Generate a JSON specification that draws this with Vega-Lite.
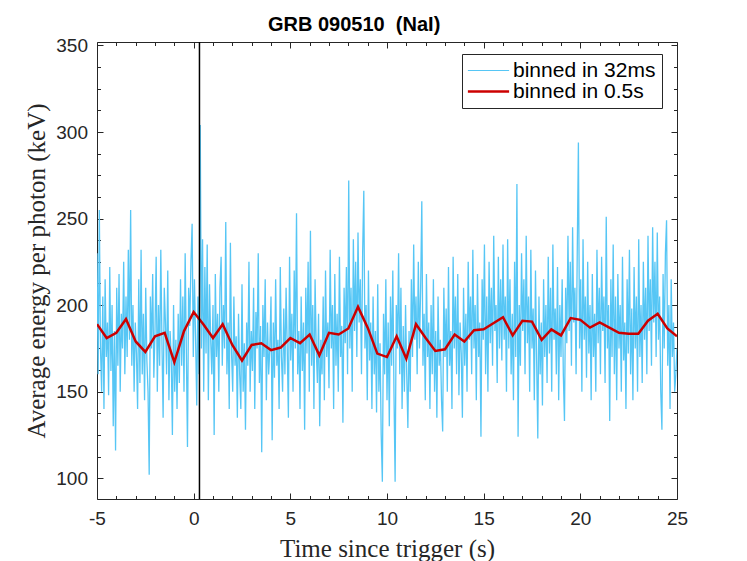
{
  "$schema": "https://vega.github.io/schema/vega-lite/v6.json",
  "width": 580,
  "height": 457,
  "autosize": {"type": "none"},
  "padding": {"left": 97, "top": 42, "right": 70, "bottom": 62},
  "background": "white",
  "config": {
    "view": {"stroke": null},
    "axis": {
      "grid": false,
      "domainColor": "#262626",
      "tickColor": "#262626",
      "labelColor": "#262626",
      "titleColor": "#262626",
      "domainWidth": 1,
      "tickWidth": 1,
      "labelFont": "Liberation Sans",
      "labelFontSize": 19,
      "titleFont": "Liberation Serif",
      "titleFontSize": 25,
      "titleFontWeight": "normal",
      "labelFlush": false,
      "labelOverlap": false,
      "zindex": 1
    }
  },
  "title": {
    "text": "GRB 090510\u00a0\u00a0(NaI)",
    "font": "Liberation Sans",
    "fontSize": 20,
    "fontWeight": "bold",
    "color": "black",
    "anchor": "start",
    "frame": "group",
    "dx": 171,
    "baseline": "alphabetic",
    "offset": -15
  },
  "datasets": {
    "fine": [
      {"t":-5,"e":230},{"t":-4.94,"e":160},{"t":-4.88,"e":255},{"t":-4.82,"e":175},{"t":-4.76,"e":150},{"t":-4.7,"e":205},{"t":-4.64,"e":140},{"t":-4.58,"e":215},{"t":-4.52,"e":170},{"t":-4.46,"e":190},
      {"t":-4.4,"e":148},{"t":-4.34,"e":222},{"t":-4.28,"e":162},{"t":-4.22,"e":200},{"t":-4.16,"e":130},{"t":-4.1,"e":185},{"t":-4.04,"e":116},{"t":-3.98,"e":210},{"t":-3.92,"e":165},{"t":-3.86,"e":218},
      {"t":-3.8,"e":150},{"t":-3.74,"e":195},{"t":-3.68,"e":175},{"t":-3.62,"e":225},{"t":-3.56,"e":160},{"t":-3.5,"e":205},{"t":-3.44,"e":170},{"t":-3.38,"e":232},{"t":-3.32,"e":180},{"t":-3.26,"e":255},
      {"t":-3.2,"e":165},{"t":-3.14,"e":200},{"t":-3.08,"e":150},{"t":-3.02,"e":190},{"t":-2.96,"e":172},{"t":-2.9,"e":140},{"t":-2.84,"e":215},{"t":-2.78,"e":155},{"t":-2.72,"e":232},{"t":-2.66,"e":160},
      {"t":-2.6,"e":195},{"t":-2.54,"e":145},{"t":-2.48,"e":210},{"t":-2.42,"e":168},{"t":-2.36,"e":150},{"t":-2.3,"e":102},{"t":-2.24,"e":205},{"t":-2.18,"e":175},{"t":-2.12,"e":218},{"t":-2.06,"e":158},
      {"t":-2,"e":185},{"t":-1.94,"e":228},{"t":-1.88,"e":150},{"t":-1.82,"e":200},{"t":-1.76,"e":165},{"t":-1.7,"e":232},{"t":-1.64,"e":178},{"t":-1.58,"e":135},{"t":-1.52,"e":210},{"t":-1.46,"e":190},
      {"t":-1.4,"e":160},{"t":-1.34,"e":220},{"t":-1.28,"e":145},{"t":-1.22,"e":185},{"t":-1.16,"e":170},{"t":-1.1,"e":125},{"t":-1.04,"e":200},{"t":-0.98,"e":150},{"t":-0.92,"e":180},{"t":-0.86,"e":140},
      {"t":-0.8,"e":195},{"t":-0.74,"e":155},{"t":-0.68,"e":215},{"t":-0.62,"e":165},{"t":-0.56,"e":205},{"t":-0.5,"e":150},{"t":-0.44,"e":230},{"t":-0.38,"e":175},{"t":-0.32,"e":118},{"t":-0.26,"e":210},
      {"t":-0.2,"e":188},{"t":-0.14,"e":225},{"t":-0.08,"e":247},{"t":-0.02,"e":170},{"t":0.04,"e":215},{"t":0.1,"e":180},{"t":0.16,"e":142},{"t":0.22,"e":205},{"t":0.28,"e":160},{"t":0.34,"e":304},
      {"t":0.4,"e":175},{"t":0.46,"e":238},{"t":0.52,"e":150},{"t":0.58,"e":222},{"t":0.64,"e":172},{"t":0.7,"e":235},{"t":0.76,"e":145},{"t":0.82,"e":212},{"t":0.88,"e":180},{"t":0.94,"e":160},
      {"t":1,"e":200},{"t":1.06,"e":125},{"t":1.12,"e":218},{"t":1.18,"e":170},{"t":1.24,"e":195},{"t":1.3,"e":150},{"t":1.36,"e":210},{"t":1.42,"e":228},{"t":1.48,"e":165},{"t":1.54,"e":200},
      {"t":1.6,"e":175},{"t":1.66,"e":248},{"t":1.72,"e":160},{"t":1.78,"e":190},{"t":1.84,"e":140},{"t":1.9,"e":236},{"t":1.96,"e":172},{"t":2.02,"e":150},{"t":2.08,"e":205},{"t":2.14,"e":165},
      {"t":2.2,"e":182},{"t":2.26,"e":135},{"t":2.32,"e":195},{"t":2.38,"e":160},{"t":2.44,"e":140},{"t":2.5,"e":212},{"t":2.56,"e":150},{"t":2.62,"e":178},{"t":2.68,"e":128},{"t":2.74,"e":190},
      {"t":2.8,"e":165},{"t":2.86,"e":225},{"t":2.92,"e":150},{"t":2.98,"e":185},{"t":3.04,"e":162},{"t":3.1,"e":210},{"t":3.16,"e":140},{"t":3.22,"e":196},{"t":3.28,"e":175},{"t":3.34,"e":230},
      {"t":3.4,"e":155},{"t":3.46,"e":188},{"t":3.52,"e":115},{"t":3.58,"e":200},{"t":3.64,"e":170},{"t":3.7,"e":215},{"t":3.76,"e":145},{"t":3.82,"e":190},{"t":3.88,"e":160},{"t":3.94,"e":175},
      {"t":4,"e":205},{"t":4.06,"e":122},{"t":4.12,"e":190},{"t":4.18,"e":158},{"t":4.24,"e":215},{"t":4.3,"e":165},{"t":4.36,"e":180},{"t":4.42,"e":140},{"t":4.48,"e":222},{"t":4.54,"e":170},
      {"t":4.6,"e":150},{"t":4.66,"e":198},{"t":4.72,"e":160},{"t":4.78,"e":210},{"t":4.84,"e":175},{"t":4.9,"e":135},{"t":4.96,"e":228},{"t":5.02,"e":168},{"t":5.08,"e":195},{"t":5.14,"e":150},
      {"t":5.2,"e":220},{"t":5.26,"e":175},{"t":5.32,"e":253},{"t":5.38,"e":160},{"t":5.44,"e":185},{"t":5.5,"e":140},{"t":5.56,"e":205},{"t":5.62,"e":162},{"t":5.68,"e":190},{"t":5.74,"e":128},
      {"t":5.8,"e":210},{"t":5.86,"e":172},{"t":5.92,"e":225},{"t":5.98,"e":150},{"t":6.04,"e":243},{"t":6.1,"e":165},{"t":6.16,"e":200},{"t":6.22,"e":140},{"t":6.28,"e":215},{"t":6.34,"e":175},
      {"t":6.4,"e":155},{"t":6.46,"e":195},{"t":6.52,"e":130},{"t":6.58,"e":180},{"t":6.64,"e":160},{"t":6.7,"e":205},{"t":6.76,"e":145},{"t":6.82,"e":220},{"t":6.88,"e":170},{"t":6.94,"e":190},
      {"t":7,"e":152},{"t":7.06,"e":232},{"t":7.12,"e":175},{"t":7.18,"e":200},{"t":7.24,"e":140},{"t":7.3,"e":218},{"t":7.36,"e":165},{"t":7.42,"e":195},{"t":7.48,"e":150},{"t":7.54,"e":228},
      {"t":7.6,"e":170},{"t":7.66,"e":188},{"t":7.72,"e":132},{"t":7.78,"e":210},{"t":7.84,"e":178},{"t":7.9,"e":222},{"t":7.96,"e":160},{"t":8.02,"e":272},{"t":8.08,"e":175},{"t":8.14,"e":210},
      {"t":8.2,"e":150},{"t":8.26,"e":238},{"t":8.32,"e":185},{"t":8.38,"e":225},{"t":8.44,"e":170},{"t":8.5,"e":242},{"t":8.56,"e":190},{"t":8.62,"e":215},{"t":8.68,"e":160},{"t":8.74,"e":230},
      {"t":8.8,"e":266},{"t":8.86,"e":175},{"t":8.92,"e":200},{"t":8.98,"e":145},{"t":9.04,"e":220},{"t":9.1,"e":168},{"t":9.16,"e":190},{"t":9.22,"e":140},{"t":9.28,"e":205},{"t":9.34,"e":160},
      {"t":9.4,"e":185},{"t":9.46,"e":138},{"t":9.52,"e":212},{"t":9.58,"e":150},{"t":9.64,"e":178},{"t":9.7,"e":125},{"t":9.76,"e":98},{"t":9.82,"e":195},{"t":9.88,"e":160},{"t":9.94,"e":215},
      {"t":10,"e":145},{"t":10.06,"e":190},{"t":10.12,"e":130},{"t":10.18,"e":205},{"t":10.24,"e":165},{"t":10.3,"e":220},{"t":10.36,"e":150},{"t":10.42,"e":98},{"t":10.48,"e":200},{"t":10.54,"e":175},
      {"t":10.6,"e":230},{"t":10.66,"e":160},{"t":10.72,"e":210},{"t":10.78,"e":140},{"t":10.84,"e":188},{"t":10.9,"e":150},{"t":10.96,"e":200},{"t":11.02,"e":160},{"t":11.08,"e":129},{"t":11.14,"e":185},
      {"t":11.2,"e":150},{"t":11.26,"e":215},{"t":11.32,"e":170},{"t":11.38,"e":235},{"t":11.44,"e":180},{"t":11.5,"e":205},{"t":11.56,"e":160},{"t":11.62,"e":225},{"t":11.68,"e":175},{"t":11.74,"e":210},
      {"t":11.8,"e":260},{"t":11.86,"e":165},{"t":11.92,"e":195},{"t":11.98,"e":145},{"t":12.04,"e":218},{"t":12.1,"e":170},{"t":12.16,"e":190},{"t":12.22,"e":140},{"t":12.28,"e":200},{"t":12.34,"e":160},
      {"t":12.4,"e":215},{"t":12.46,"e":150},{"t":12.52,"e":185},{"t":12.58,"e":135},{"t":12.64,"e":205},{"t":12.7,"e":165},{"t":12.76,"e":180},{"t":12.82,"e":145},{"t":12.88,"e":127},{"t":12.94,"e":210},
      {"t":13,"e":170},{"t":13.06,"e":198},{"t":13.12,"e":150},{"t":13.18,"e":222},{"t":13.24,"e":165},{"t":13.3,"e":185},{"t":13.36,"e":140},{"t":13.42,"e":228},{"t":13.48,"e":175},{"t":13.54,"e":205},
      {"t":13.6,"e":160},{"t":13.66,"e":218},{"t":13.72,"e":148},{"t":13.78,"e":190},{"t":13.84,"e":172},{"t":13.9,"e":135},{"t":13.96,"e":210},{"t":14.02,"e":165},{"t":14.08,"e":195},{"t":14.14,"e":150},
      {"t":14.2,"e":225},{"t":14.26,"e":180},{"t":14.32,"e":205},{"t":14.38,"e":160},{"t":14.44,"e":232},{"t":14.5,"e":175},{"t":14.56,"e":200},{"t":14.62,"e":145},{"t":14.68,"e":218},{"t":14.74,"e":170},
      {"t":14.8,"e":190},{"t":14.86,"e":124},{"t":14.92,"e":215},{"t":14.98,"e":180},{"t":15.04,"e":235},{"t":15.1,"e":160},{"t":15.16,"e":205},{"t":15.22,"e":150},{"t":15.28,"e":225},{"t":15.34,"e":178},
      {"t":15.4,"e":210},{"t":15.46,"e":165},{"t":15.52,"e":240},{"t":15.58,"e":185},{"t":15.64,"e":200},{"t":15.7,"e":155},{"t":15.76,"e":228},{"t":15.82,"e":175},{"t":15.88,"e":215},{"t":15.94,"e":168},
      {"t":16,"e":235},{"t":16.06,"e":180},{"t":16.12,"e":205},{"t":16.18,"e":150},{"t":16.24,"e":238},{"t":16.3,"e":175},{"t":16.36,"e":215},{"t":16.42,"e":160},{"t":16.48,"e":195},{"t":16.54,"e":145},
      {"t":16.6,"e":225},{"t":16.66,"e":170},{"t":16.72,"e":270},{"t":16.78,"e":124},{"t":16.84,"e":200},{"t":16.9,"e":165},{"t":16.96,"e":230},{"t":17.02,"e":185},{"t":17.08,"e":215},{"t":17.14,"e":160},
      {"t":17.2,"e":240},{"t":17.26,"e":178},{"t":17.32,"e":205},{"t":17.38,"e":150},{"t":17.44,"e":232},{"t":17.5,"e":175},{"t":17.56,"e":198},{"t":17.62,"e":145},{"t":17.68,"e":220},{"t":17.74,"e":168},
      {"t":17.8,"e":123},{"t":17.86,"e":205},{"t":17.92,"e":160},{"t":17.98,"e":190},{"t":18.04,"e":142},{"t":18.1,"e":215},{"t":18.16,"e":170},{"t":18.22,"e":200},{"t":18.28,"e":155},{"t":18.34,"e":228},
      {"t":18.4,"e":172},{"t":18.46,"e":210},{"t":18.52,"e":150},{"t":18.58,"e":235},{"t":18.64,"e":180},{"t":18.7,"e":198},{"t":18.76,"e":160},{"t":18.82,"e":222},{"t":18.88,"e":145},{"t":18.94,"e":200},
      {"t":19,"e":170},{"t":19.06,"e":215},{"t":19.12,"e":160},{"t":19.18,"e":133},{"t":19.24,"e":210},{"t":19.3,"e":178},{"t":19.36,"e":240},{"t":19.42,"e":185},{"t":19.48,"e":225},{"t":19.54,"e":165},
      {"t":19.6,"e":245},{"t":19.66,"e":190},{"t":19.72,"e":210},{"t":19.78,"e":160},{"t":19.84,"e":230},{"t":19.9,"e":294},{"t":19.96,"e":175},{"t":20.02,"e":215},{"t":20.08,"e":150},{"t":20.14,"e":238},
      {"t":20.2,"e":180},{"t":20.26,"e":205},{"t":20.32,"e":158},{"t":20.38,"e":225},{"t":20.44,"e":172},{"t":20.5,"e":200},{"t":20.56,"e":145},{"t":20.62,"e":218},{"t":20.68,"e":170},{"t":20.74,"e":195},
      {"t":20.8,"e":150},{"t":20.86,"e":232},{"t":20.92,"e":178},{"t":20.98,"e":210},{"t":21.04,"e":160},{"t":21.1,"e":228},{"t":21.16,"e":185},{"t":21.22,"e":205},{"t":21.28,"e":155},{"t":21.34,"e":251},
      {"t":21.4,"e":175},{"t":21.46,"e":200},{"t":21.52,"e":133},{"t":21.58,"e":215},{"t":21.64,"e":170},{"t":21.7,"e":235},{"t":21.76,"e":160},{"t":21.82,"e":205},{"t":21.88,"e":145},{"t":21.94,"e":218},
      {"t":22,"e":175},{"t":22.06,"e":200},{"t":22.12,"e":150},{"t":22.18,"e":228},{"t":22.24,"e":168},{"t":22.3,"e":190},{"t":22.36,"e":140},{"t":22.42,"e":215},{"t":22.48,"e":172},{"t":22.54,"e":232},
      {"t":22.6,"e":160},{"t":22.66,"e":198},{"t":22.72,"e":145},{"t":22.78,"e":222},{"t":22.84,"e":175},{"t":22.9,"e":205},{"t":22.96,"e":150},{"t":23.02,"e":238},{"t":23.08,"e":170},{"t":23.14,"e":200},
      {"t":23.2,"e":155},{"t":23.26,"e":225},{"t":23.32,"e":180},{"t":23.38,"e":210},{"t":23.44,"e":160},{"t":23.5,"e":240},{"t":23.56,"e":185},{"t":23.62,"e":215},{"t":23.68,"e":165},{"t":23.74,"e":245},
      {"t":23.8,"e":190},{"t":23.86,"e":225},{"t":23.92,"e":170},{"t":23.98,"e":242},{"t":24.04,"e":180},{"t":24.1,"e":205},{"t":24.16,"e":150},{"t":24.22,"e":128},{"t":24.28,"e":218},{"t":24.34,"e":175},
      {"t":24.4,"e":230},{"t":24.46,"e":249},{"t":24.52,"e":165},{"t":24.58,"e":200},{"t":24.64,"e":140},{"t":24.7,"e":215},{"t":24.76,"e":170},{"t":24.82,"e":190},{"t":24.88,"e":150},{"t":24.94,"e":160},
      {"t":25,"e":175}
    ],
    "coarse": [
      {"t":-5,"e":189},{"t":-4.5,"e":181},{"t":-4,"e":184},{"t":-3.5,"e":192},{"t":-3,"e":179},{"t":-2.5,"e":173},{"t":-2,"e":182},{"t":-1.5,"e":184},{"t":-1,"e":167},{"t":-0.5,"e":185},
      {"t":0,"e":196},{"t":0.5,"e":189},{"t":1,"e":181},{"t":1.5,"e":189},{"t":2,"e":177},{"t":2.5,"e":168},{"t":3,"e":177},{"t":3.5,"e":178},{"t":4,"e":174},{"t":4.5,"e":175.5},
      {"t":5,"e":181},{"t":5.5,"e":178},{"t":6,"e":183},{"t":6.5,"e":171},{"t":7,"e":184},{"t":7.5,"e":183},{"t":8,"e":186.5},{"t":8.5,"e":199},{"t":9,"e":187},{"t":9.5,"e":172},
      {"t":10,"e":170},{"t":10.5,"e":182},{"t":11,"e":169},{"t":11.5,"e":189},{"t":12,"e":181},{"t":12.5,"e":173.5},{"t":13,"e":174.5},{"t":13.5,"e":183},{"t":14,"e":179},{"t":14.5,"e":185.5},
      {"t":15,"e":186},{"t":15.5,"e":189.5},{"t":16,"e":193},{"t":16.5,"e":182.5},{"t":17,"e":191},{"t":17.5,"e":190.5},{"t":18,"e":180},{"t":18.5,"e":186},{"t":19,"e":182.5},{"t":19.5,"e":192.5},
      {"t":20,"e":191.5},{"t":20.5,"e":187},{"t":21,"e":190},{"t":21.5,"e":187},{"t":22,"e":184},{"t":22.5,"e":183.5},{"t":23,"e":183.5},{"t":23.5,"e":191},{"t":24,"e":195},{"t":24.5,"e":186.5},
      {"t":25,"e":182}
    ],
    "trigger": [{"t": 0.3}]
  },
  "layer": [
    {
      "data": {"name": "fine"},
      "mark": {"type": "line", "strokeWidth": 1.3, "clip": true},
      "encoding": {
        "x": {
          "field": "t",
          "type": "quantitative",
          "scale": {"domain": [-5, 25], "nice": false, "zero": false},
          "axis": {
            "orient": "bottom",
            "title": "Time since trigger (s)",
            "values": [-5,-4,-3,-2,-1,0,1,2,3,4,5,6,7,8,9,10,11,12,13,14,15,16,17,18,19,20,21,22,23,24,25],
            "labelExpr": "datum.value % 5 === 0 ? '' + datum.value : ''",
            "tickSize": {"condition": {"test": "datum.value % 5 === 0", "value": -6}, "value": -3.5},
            "labelPadding": 16,
            "titlePadding": 6
          }
        },
        "y": {
          "field": "e",
          "type": "quantitative",
          "scale": {"domain": [88, 352], "nice": false, "zero": false},
          "axis": {
            "orient": "left",
            "title": "Average energy per photon (keV)",
            "values": [100,112.5,125,137.5,150,162.5,175,187.5,200,212.5,225,237.5,250,262.5,275,287.5,300,312.5,325,337.5,350],
            "labelExpr": "datum.value % 50 === 0 ? '' + datum.value : ''",
            "tickSize": {"condition": {"test": "datum.value % 50 === 0", "value": -6}, "value": -3.5},
            "labelPadding": 15.5,
            "titlePadding": 6
          }
        },
        "color": {
          "datum": "binned in 32ms",
          "scale": {"domain": ["binned in 32ms", "binned in 0.5s"], "range": ["#56C6F5", "#CC0000"]},
          "legend": {
            "title": null,
            "orient": "none",
            "legendX": 365,
            "legendY": 12,
            "symbolType": "stroke",
            "symbolSize": 1700,
            "symbolOffset": 10,
            "rowPadding": -25,
            "labelOffset": 14,
            "labelFont": "Liberation Sans",
            "labelFontSize": 21,
            "labelColor": "black",
            "strokeColor": "#262626",
            "fillColor": "white",
            "padding": 6,
            "cornerRadius": 0,
            "encode": {
              "symbols": {"update": {"strokeWidth": {"signal": "datum.value === 'binned in 0.5s' ? 2.5 : 1.2"}}}
            }
          }
        }
      }
    },
    {
      "data": {"name": "coarse"},
      "mark": {"type": "line", "strokeWidth": 2.5, "clip": true},
      "encoding": {
        "x": {
          "field": "t",
          "type": "quantitative",
          "scale": {"domain": [-5, 25], "nice": false, "zero": false},
          "axis": {
            "orient": "top",
            "title": null,
            "labels": false,
            "values": [-5,-4,-3,-2,-1,0,1,2,3,4,5,6,7,8,9,10,11,12,13,14,15,16,17,18,19,20,21,22,23,24,25],
            "tickSize": {"condition": {"test": "datum.value % 5 === 0", "value": -6}, "value": -3.5}
          }
        },
        "y": {
          "field": "e",
          "type": "quantitative",
          "scale": {"domain": [88, 352], "nice": false, "zero": false},
          "axis": {
            "orient": "right",
            "title": null,
            "labels": false,
            "values": [100,112.5,125,137.5,150,162.5,175,187.5,200,212.5,225,237.5,250,262.5,275,287.5,300,312.5,325,337.5,350],
            "tickSize": {"condition": {"test": "datum.value % 50 === 0", "value": -6}, "value": -3.5}
          }
        },
        "color": {"datum": "binned in 0.5s"}
      }
    },
    {
      "data": {"name": "trigger"},
      "mark": {"type": "rule", "color": "black", "strokeWidth": 1.5},
      "encoding": {
        "x": {"field": "t", "type": "quantitative", "axis": null}
      }
    }
  ],
  "resolve": {"axis": {"x": "independent", "y": "independent"}}
}
